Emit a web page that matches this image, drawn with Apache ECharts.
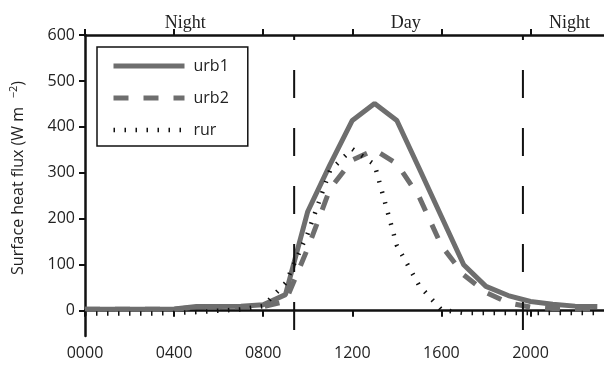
<!DOCTYPE html>
<html>
<head>
<meta charset="utf-8">
<script src="https://cdn.jsdelivr.net/npm/echarts@6/dist/echarts.min.js"></script>
<style>
html,body{margin:0;padding:0;background:#fff}
#chart{width:604px;height:365px}
</style>
</head>
<body>
<div id="chart"></div>
<script>
// hourly values, hour 0 .. 23
var hours = [0,1,2,3,4,5,6,7,8,9,10,11,12,13,14,15,16,17,18,19,20,21,22,23];
var urb1 = [3,3,3,3,4,9,9,10,13,35,216,318,414,451,414,310,205,100,53,33,20,14,10,9];
var urb2 = [3,3,3,3,3,8,8,9,9,20,136,265,328,350,320,248,142,78,40,17,8,5,4,4];
var rur  = [-6,-6,-6,-6,-5,-3,0,3,10,60,168,305,352,318,142,55,2,-5,-5,-5,-5,-5,-5,-5];

var xTicks = [0,4,8,12,16,20];
var xTickLabels = ['0000','0400','0800','1200','1600','2000'];
var yTicks = [0,100,200,300,400,500,600];
var periods = ['Night','Day','Night'];
var periodAt = [4.5,14.4,21.75];
var dayEdges = [9.39,19.66];   // sunrise / sunset

var sans = 'Open Sans';
var gray = '#6e6e6e';
var ink = '#111';

var urb1Style = {color:gray,width:5};
var urb2Style = {color:gray,width:5,type:[15,15]};
var rurStyle  = {color:'#111',width:4.5,type:[1.5,9.5]};

function pairs(ys){
  return hours.map(function(h,i){ return [h, ys[i]]; });
}

var myChart = echarts.init(document.getElementById('chart'));

var axisLine = {lineStyle:{color:ink,width:2.5}};
var tick = {show:true,length:6,lineStyle:{color:ink,width:2}};
var noDot = {opacity:0};

var option = {
  animation:false,
  grid:{left:85,right:0,top:35,bottom:29},
  // y axis title, drawn by hand so the superscript sits right
  graphic:[{
    type:'text', x:18, y:178, rotation:Math.PI/2,
    style:{
      text:'{a|Surface heat flux (W m}{s|   \u22122}{a|)}',
      align:'center', verticalAlign:'middle',
      rich:{
        a:{fontFamily:sans,fontSize:16,fill:'#222',lineHeight:20},
        s:{fontFamily:sans,fontSize:11,fill:'#222',verticalAlign:'top',lineHeight:20}
      }
    }
  }],
  legend:{
    orient:'vertical',
    left:97, top:47,
    data:[
      {name:'urb1', itemStyle:noDot, lineStyle:urb1Style},
      {name:'urb2', itemStyle:noDot, lineStyle:urb2Style},
      {name:'rur',  itemStyle:noDot, lineStyle:rurStyle}
    ],
    itemWidth:71, itemHeight:14, itemGap:16,
    padding:[11,19,8,14],
    borderColor:ink, borderWidth:1.5,
    backgroundColor:'#fff',
    textStyle:{fontFamily:sans,fontSize:16,color:'#222',padding:[0,0,0,4]}
  },
  xAxis:[{
    type:'value', min:0, max:23.3,
    axisLine:axisLine,
    axisTick:Object.assign({customValues:xTicks},tick),
    splitLine:{show:false},
    axisLabel:{
      customValues:xTicks, margin:9,
      fontFamily:sans, fontSize:16, color:'#222',
      formatter:function(v){ return xTickLabels[xTicks.indexOf(v)]; }
    }
  },{
    type:'value', min:0, max:23.3, position:'top',
    axisLine:axisLine,
    axisTick:Object.assign({customValues:xTicks},tick),
    splitLine:{show:false},
    axisLabel:{
      customValues:periodAt, margin:3,
      fontFamily:'Liberation Serif', fontSize:18, color:'#222',
      formatter:function(v){ return periods[periodAt.indexOf(v)]; }
    }
  }],
  yAxis:{
    type:'value', min:-55, max:600,
    axisLine:axisLine,
    axisTick:Object.assign({customValues:yTicks},tick),
    splitLine:{show:false},
    axisLabel:{customValues:yTicks, margin:10, fontFamily:sans, fontSize:16, color:'#222'}
  },
  series:[
    {name:'urb1', type:'line', data:pairs(urb1), symbol:'none', z:2,
     lineStyle:urb1Style, itemStyle:{color:gray}},
    {name:'urb2', type:'line', data:pairs(urb2), symbol:'none', z:3,
     lineStyle:urb2Style, itemStyle:{color:gray}},
    {name:'rur', type:'line', data:pairs(rur), symbol:'none', z:4,
     lineStyle:rurStyle, itemStyle:{color:'#111'}},
    {type:'line', data:[[dayEdges[0],600],[dayEdges[0],-55]], symbol:'none', z:5, silent:true,
     lineStyle:{color:ink,width:2,type:[28,30],dashOffset:23}},
    {type:'line', data:[[dayEdges[1],600],[dayEdges[1],-55]], symbol:'none', z:5, silent:true,
     lineStyle:{color:ink,width:2,type:[28,30],dashOffset:23}}
  ]
};

myChart.setOption(option);
</script>
</body>
</html>
